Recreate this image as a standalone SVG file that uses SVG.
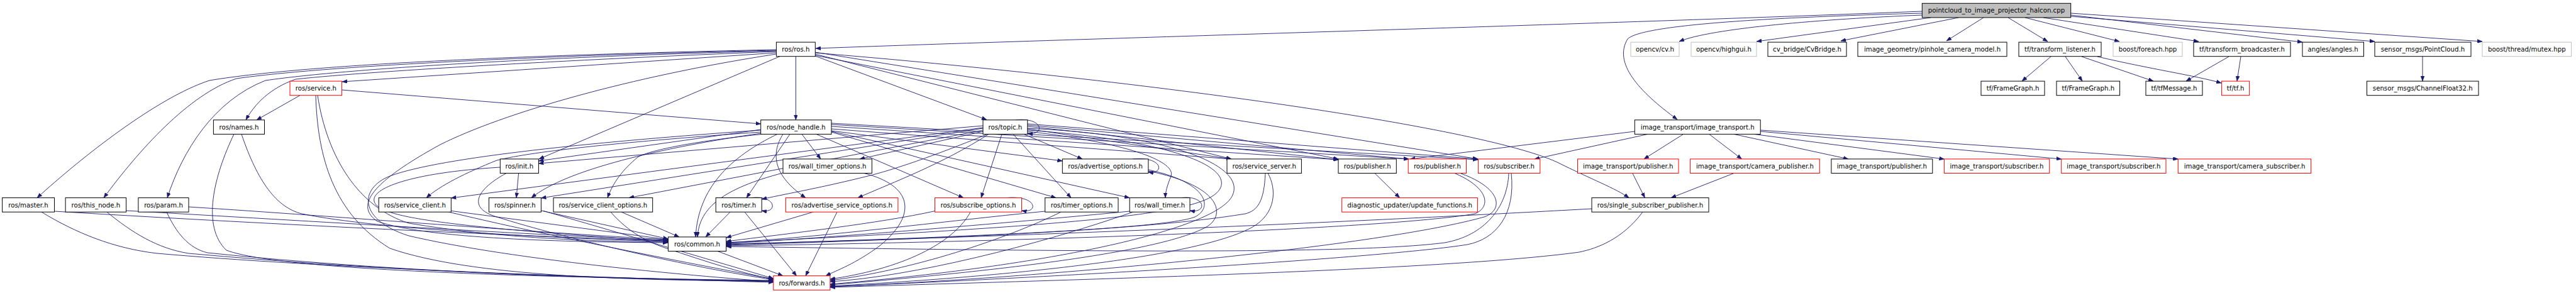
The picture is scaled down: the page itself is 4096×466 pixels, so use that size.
<svg xmlns="http://www.w3.org/2000/svg" width="4096" height="466" viewBox="0 0 4096 466">
<style>
.n rect{fill:#fff;stroke:#000;stroke-width:1}
.r rect{stroke:#ff0000}
.g rect{stroke:#bfbfbf}
.n text{font-family:"DejaVu Sans",sans-serif;font-size:10.2px;text-anchor:middle;fill:#000}
.e path{fill:none;stroke:#191970;stroke-width:0.9;marker-end:url(#a)}
</style>
<defs>
<marker id="a" markerWidth="8" markerHeight="6" refX="8" refY="3" orient="auto" markerUnits="userSpaceOnUse"><path d="M0,0 L8,3 L0,6 z" fill="#191970" stroke="#191970" stroke-width="0.5"/></marker>
</defs>
<rect width="4096" height="466" fill="#fff"/>
<g id="edges" class="e">
<path d="M3056,18 C2500,40 1700,62 1297,77"/>
<path d="M3056,21 C2800,28 2610,40 2588,62 C2565,100 2605,145 2667,190"/>
<path d="M3056,24 C2900,30 2720,45 2670,66"/>
<path d="M3070,28 L2793,66"/>
<path d="M3114,28 L2927,65"/>
<path d="M3154,28 L3095,65"/>
<path d="M3193,28 L3256,66"/>
<path d="M3220,28 L3370,66"/>
<path d="M3249,28 L3496,66"/>
<path d="M3293,24 L3661,67"/>
<path d="M3293,26 L3776,66"/>
<path d="M3293,21 L3947,66"/>
<path d="M3261,90 L3215,129"/>
<path d="M3284,90 L3311,129"/>
<path d="M3310,90 L3424,129"/>
<path d="M3335,90 C3420,110 3490,120 3532,132"/>
<path d="M3544,90 L3476,129"/>
<path d="M3563,90 L3557,129"/>
<path d="M3852,90 L3852,129"/>
<path d="M1265.4,89.7 L1265.4,190.8"/>
<path d="M1296,89 L1569,190.5"/>
<path d="M1296,84 C1800,125 2350,200 2476,258 C2530,285 2570,300 2590,314.6"/>
<path d="M1296,86 L1958,252.9"/>
<path d="M1296,83 L2350,252.9"/>
<path d="M1296,88 L2128,252.9"/>
<path d="M1234,79 C900,86 500,100 333,128 C250,155 130,250 59,314.6"/>
<path d="M1234,80 C900,87 520,104 376,125 C300,150 220,240 165,314.6"/>
<path d="M1234,81 C900,89 560,108 422,128 C340,160 290,240 266,314.6"/>
<path d="M1234,82 C950,93 600,112 470,126 C430,140 405,165 391,190.8"/>
<path d="M1234,84 L544,130"/>
<path d="M1240,89.7 L857,252.9"/>
<path d="M1234,86 C1000,122 800,180 700,230 C600,285 560,325 600,352 C680,380 900,385 1062,386"/>
<path d="M543.6,143 L1209.7,197"/>
<path d="M477,151.7 L408,190.8"/>
<path d="M502,151.7 C505,250 530,340 620,395 C750,440 1000,446 1229.8,447"/>
<path d="M505,151.7 C520,250 570,330 650,355 C800,380 950,384 1062.4,385"/>
<path d="M372,213.4 C340,280 320,360 360,398 C450,432 900,442 1229.8,446"/>
<path d="M384,213.4 C410,290 440,330 480,340 C600,365 900,380 1062.4,384"/>
<path d="M86.5,336 C400,355 800,375 1062.4,383"/>
<path d="M66,337.2 C120,370 180,395 250,403 C500,425 900,440 1229.8,449"/>
<path d="M200.6,335 C500,352 850,374 1062.4,382"/>
<path d="M170,337.2 C210,370 250,395 300,403 C600,430 900,442 1229.8,448"/>
<path d="M300,329 C550,345 850,370 1062.4,381"/>
<path d="M265,337.2 C280,370 300,395 330,402 C600,430 900,442 1229.8,447"/>
<path d="M824.6,275.5 L821,314.6"/>
<path d="M795.3,266 C650,275 590,300 595,320 C600,345 700,360 1062.4,384"/>
<path d="M805,275.5 C760,300 740,330 790,345 C900,380 1100,425 1229.8,445"/>
<path d="M1209.7,206 L856.4,256"/>
<path d="M1209.7,210 C1000,225 850,240 790,255 C740,275 700,295 678,314.6"/>
<path d="M1209.7,212 C1050,235 900,270 845,314.6"/>
<path d="M1212,213.4 C1100,225 1030,240 1014,250 C990,270 975,290 966,314.6"/>
<path d="M1275,213.4 L1305,252.9"/>
<path d="M1256,213.4 L1187,314.6"/>
<path d="M1245,213.4 C1225,245 1230,280 1281,314.6"/>
<path d="M1298,213.4 L1532,314.6"/>
<path d="M1322,208 L1689.3,256"/>
<path d="M1322,210 L1679,314.6"/>
<path d="M1322,209 L1796,314.6"/>
<path d="M1322,205 L1958,253"/>
<path d="M1322,201 L2128,254"/>
<path d="M1322,198 L2240,253"/>
<path d="M1322,196 L2350,254"/>
<path d="M1236,213.4 C1160,250 1110,300 1106,376.9"/>
<path d="M1209.7,207 C950,225 700,250 620,280 C570,300 570,350 650,375 C800,410 1050,435 1229.8,448"/>
<path d="M1615,190.8 C1660,186 1662,216 1634,212"/>
<path d="M1563,200 L856.4,260"/>
<path d="M1563,203 L717.3,315"/>
<path d="M1563,204 L860.4,315"/>
<path d="M1563,207 L1000,314.6"/>
<path d="M1563,209 L1367,252.9"/>
<path d="M1570,213.4 C1480,250 1420,270 1380,280 C1300,300 1240,310 1211.2,317"/>
<path d="M1572,213.4 C1500,260 1420,290 1364,314.6"/>
<path d="M1593,213.4 L1560,314.6"/>
<path d="M1628,213.4 L1721,252.9"/>
<path d="M1611,213.4 L1703,314.6"/>
<path d="M1633.8,209 C1800,228 1870,258 1862,280 C1856,295 1853,305 1853,314.6"/>
<path d="M1633.8,205 L1958,253"/>
<path d="M1633.8,201 L2128,254"/>
<path d="M1633.8,199 L2240,253"/>
<path d="M1633.8,197 L2350,253"/>
<path d="M1633.8,207 C1850,222 1960,262 1940,300 C1920,335 1800,355 1154.7,386"/>
<path d="M1633.8,204 C1870,215 1980,265 1960,310 C1940,360 1700,420 1319.9,452"/>
<path d="M1245,275 C1150,300 1112,330 1109,376.9"/>
<path d="M1374,275.5 C1450,295 1460,340 1400,390 C1360,420 1330,430 1313,438.7"/>
<path d="M1801,252.9 C1850,248 1852,278 1825.9,273.7"/>
<path d="M1825.9,270 C1920,290 1930,330 1900,345 C1850,365 1500,378 1154.7,389"/>
<path d="M1825.9,272 C1940,295 1950,340 1920,360 C1850,400 1600,430 1319.9,453"/>
<path d="M2012,275.5 C2010,320 2000,335 1980,340 C1800,370 1400,382 1154.7,390"/>
<path d="M2016,275.5 C2030,300 2030,340 1990,362 C1900,410 1600,440 1319.9,455"/>
<path d="M2186,275.5 L2225.6,314.6"/>
<path d="M2313,275.5 C2370,300 2370,330 2345,340 C2200,365 1600,385 1154.7,391"/>
<path d="M2322,275.5 C2390,300 2390,335 2360,345 C2200,390 1700,440 1319.9,456"/>
<path d="M2399,275.5 C2397,330 2360,375 2297,386 C2150,405 1700,400 1154.7,392"/>
<path d="M2403,275.5 C2410,340 2380,380 2333,389 C2200,410 1700,440 1319.9,456"/>
<path d="M2531,332 C2300,345 1700,375 1154.7,388"/>
<path d="M2612,337.2 C2580,380 2540,395 2511,401 C2300,430 1700,445 1319.9,457"/>
<path d="M2599.3,209 L2242,253"/>
<path d="M2620,213.4 L2440,253"/>
<path d="M2676.6,213.4 L2614,252.9"/>
<path d="M2717.7,213.4 L2769.5,252.9"/>
<path d="M2757,213.4 L2939,252.9"/>
<path d="M2789,213.4 L3091.4,253"/>
<path d="M2799.2,209 L3277.7,253"/>
<path d="M2799.2,207 L3463.3,253"/>
<path d="M2595.8,275.5 L2615.4,314.6"/>
<path d="M2757,275.5 L2657,314.6"/>
<path d="M988,337.2 L1080,376.9"/>
<path d="M971,337.2 C1000,370 1030,385 1060,395 C1120,415 1180,435 1229.8,444"/>
<path d="M860.4,335 L1062.4,380"/>
<path d="M864,335.4 C950,360 1050,390 1229.8,443"/>
<path d="M717.3,335.4 L1062.4,381"/>
<path d="M713.8,337.2 C850,370 1050,410 1229.8,444"/>
<path d="M1195,314.6 C1235,310 1237,340 1211.2,335"/>
<path d="M1161,337.2 L1122,376.9"/>
<path d="M1184,337.2 L1266.6,438.7"/>
<path d="M1293,337.2 L1154.7,378"/>
<path d="M1331,337.2 L1281,438.7"/>
<path d="M1600,314.6 C1650,310 1652,340 1624.5,335"/>
<path d="M1486.5,335.6 C1400,355 1250,372 1154.7,384"/>
<path d="M1543,337.2 C1520,380 1450,425 1319.9,444"/>
<path d="M1661.7,336 C1500,352 1300,378 1154.7,386"/>
<path d="M1687,337.2 C1600,380 1450,430 1319.9,446"/>
<path d="M1878,314.6 C1918,310 1920,340 1892,335"/>
<path d="M1796.2,336 C1600,355 1300,380 1154.7,387"/>
<path d="M1801.5,337.2 C1650,390 1450,440 1319.9,448"/>
<path d="M1141,399.5 L1245,438.7"/>
</g>
<g id="root" class="n"><rect x="3056.3" y="5.3" width="236.4" height="22.6" style="fill:#bfbfbf"/><text x="3174.5" y="20.3">pointcloud_to_image_projector_halcon.cpp</text></g>
<g id="ros_ros" class="n"><rect x="1234.4" y="67.1" width="61.9" height="22.6"/><text x="1265.4" y="82.1">ros/ros.h</text></g>
<g id="opencv_cv" class="n g"><rect x="2593" y="67.1" width="77" height="22.6"/><text x="2631.5" y="82.1">opencv/cv.h</text></g>
<g id="opencv_highgui" class="n g"><rect x="2689" y="67.1" width="104" height="22.6"/><text x="2741" y="82.1">opencv/highgui.h</text></g>
<g id="cv_bridge" class="n"><rect x="2811" y="67.1" width="125" height="22.6"/><text x="2873.5" y="82.1">cv_bridge/CvBridge.h</text></g>
<g id="pinhole" class="n"><rect x="2954" y="67.1" width="237" height="22.6"/><text x="3072.5" y="82.1">image_geometry/pinhole_camera_model.h</text></g>
<g id="tf_listener" class="n"><rect x="3210" y="67.1" width="131" height="22.6"/><text x="3275.5" y="82.1">tf/transform_listener.h</text></g>
<g id="boost_foreach" class="n g"><rect x="3360" y="67.1" width="110" height="22.6"/><text x="3415" y="82.1">boost/foreach.hpp</text></g>
<g id="tf_broadcaster" class="n"><rect x="3488" y="67.1" width="154" height="22.6"/><text x="3565" y="82.1">tf/transform_broadcaster.h</text></g>
<g id="angles" class="n"><rect x="3661" y="67.1" width="97.5" height="22.6"/><text x="3709.7" y="82.1">angles/angles.h</text></g>
<g id="pointcloud" class="n"><rect x="3776" y="67.1" width="153" height="22.6"/><text x="3852.5" y="82.1">sensor_msgs/PointCloud.h</text></g>
<g id="mutex" class="n g"><rect x="3947" y="67.1" width="141.6" height="22.6"/><text x="4017.8" y="82.1">boost/thread/mutex.hpp</text></g>
<g id="ros_service" class="n r"><rect x="461" y="129.1" width="82.6" height="22.6"/><text x="502.3" y="144.1">ros/service.h</text></g>
<g id="tf_framegraph1" class="n"><rect x="3150" y="129.1" width="101" height="22.6"/><text x="3200.5" y="144.1">tf/FrameGraph.h</text></g>
<g id="tf_framegraph2" class="n"><rect x="3270" y="129.1" width="100.6" height="22.6"/><text x="3320.3" y="144.1">tf/FrameGraph.h</text></g>
<g id="tf_tfmessage" class="n"><rect x="3412" y="129.1" width="90" height="22.6"/><text x="3457" y="144.1">tf/tfMessage.h</text></g>
<g id="tf_tf" class="n r"><rect x="3532.6" y="129.1" width="44" height="22.6"/><text x="3554.6" y="144.1">tf/tf.h</text></g>
<g id="channelfloat" class="n"><rect x="3763.5" y="129.1" width="177.5" height="22.6"/><text x="3852.3" y="144.1">sensor_msgs/ChannelFloat32.h</text></g>
<g id="ros_names" class="n"><rect x="339.4" y="190.8" width="81.1" height="22.6"/><text x="380" y="205.8">ros/names.h</text></g>
<g id="ros_node_handle" class="n"><rect x="1209.7" y="190.8" width="112.3" height="22.6"/><text x="1265.9" y="205.8">ros/node_handle.h</text></g>
<g id="ros_topic" class="n"><rect x="1563" y="190.8" width="70.8" height="22.6"/><text x="1598.4" y="205.8">ros/topic.h</text></g>
<g id="it_image_transport" class="n"><rect x="2599.3" y="190.8" width="199.9" height="22.6"/><text x="2699.3" y="205.8">image_transport/image_transport.h</text></g>
<g id="ros_init" class="n"><rect x="795.3" y="252.9" width="61.1" height="22.6"/><text x="825.9" y="267.9">ros/init.h</text></g>
<g id="ros_wall_timer_options" class="n"><rect x="1245" y="252.9" width="141.4" height="22.6"/><text x="1315.7" y="267.9">ros/wall_timer_options.h</text></g>
<g id="ros_advertise_options" class="n"><rect x="1689.3" y="252.9" width="136.6" height="22.6"/><text x="1757.6" y="267.9">ros/advertise_options.h</text></g>
<g id="ros_service_server" class="n"><rect x="1951" y="252.9" width="118.4" height="22.6"/><text x="2010.2" y="267.9">ros/service_server.h</text></g>
<g id="ros_publisher1" class="n"><rect x="2128" y="252.9" width="92.3" height="22.6"/><text x="2174.2" y="267.9">ros/publisher.h</text></g>
<g id="ros_publisher2" class="n r"><rect x="2239.2" y="252.9" width="92.3" height="22.6"/><text x="2285.4" y="267.9">ros/publisher.h</text></g>
<g id="ros_subscriber" class="n r"><rect x="2350.4" y="252.9" width="98.4" height="22.6"/><text x="2399.6" y="267.9">ros/subscriber.h</text></g>
<g id="it_publisher1" class="n r"><rect x="2508.5" y="252.9" width="160.5" height="22.6"/><text x="2588.8" y="267.9">image_transport/publisher.h</text></g>
<g id="it_camera_publisher" class="n r"><rect x="2687.6" y="252.9" width="205.7" height="22.6"/><text x="2790.5" y="267.9">image_transport/camera_publisher.h</text></g>
<g id="it_publisher2" class="n"><rect x="2911.9" y="252.9" width="160.9" height="22.6"/><text x="2992.4" y="267.9">image_transport/publisher.h</text></g>
<g id="it_subscriber1" class="n r"><rect x="3091.4" y="252.9" width="167.3" height="22.6"/><text x="3175" y="267.9">image_transport/subscriber.h</text></g>
<g id="it_subscriber2" class="n r"><rect x="3277.7" y="252.9" width="166.3" height="22.6"/><text x="3360.9" y="267.9">image_transport/subscriber.h</text></g>
<g id="it_camera_subscriber" class="n r"><rect x="3463.3" y="252.9" width="211.3" height="22.6"/><text x="3569" y="267.9">image_transport/camera_subscriber.h</text></g>
<g id="ros_master" class="n"><rect x="3.6" y="314.6" width="82.9" height="22.6"/><text x="45" y="329.6">ros/master.h</text></g>
<g id="ros_this_node" class="n"><rect x="104.1" y="314.6" width="96.5" height="22.6"/><text x="152.4" y="329.6">ros/this_node.h</text></g>
<g id="ros_param" class="n"><rect x="219.9" y="314.6" width="80.1" height="22.6"/><text x="260" y="329.6">ros/param.h</text></g>
<g id="ros_service_client" class="n"><rect x="602.2" y="314.6" width="115.1" height="22.6"/><text x="659.8" y="329.6">ros/service_client.h</text></g>
<g id="ros_spinner" class="n"><rect x="777.4" y="314.6" width="83" height="22.6"/><text x="818.9" y="329.6">ros/spinner.h</text></g>
<g id="ros_service_client_options" class="n"><rect x="880" y="314.6" width="157.7" height="22.6"/><text x="958.9" y="329.6">ros/service_client_options.h</text></g>
<g id="ros_timer" class="n"><rect x="1138.2" y="314.6" width="73" height="22.6"/><text x="1174.7" y="329.6">ros/timer.h</text></g>
<g id="ros_advertise_service_options" class="n r"><rect x="1249.4" y="314.6" width="178.5" height="22.6"/><text x="1338.7" y="329.6">ros/advertise_service_options.h</text></g>
<g id="ros_subscribe_options" class="n r"><rect x="1486.5" y="314.6" width="138" height="22.6"/><text x="1555.5" y="329.6">ros/subscribe_options.h</text></g>
<g id="ros_timer_options" class="n"><rect x="1661.7" y="314.6" width="116.3" height="22.6"/><text x="1719.9" y="329.6">ros/timer_options.h</text></g>
<g id="ros_wall_timer" class="n"><rect x="1796.2" y="314.6" width="95.8" height="22.6"/><text x="1844.1" y="329.6">ros/wall_timer.h</text></g>
<g id="diag_update_functions" class="n r"><rect x="2133.7" y="314.6" width="215.7" height="22.6"/><text x="2241.6" y="329.6">diagnostic_updater/update_functions.h</text></g>
<g id="ros_single_subscriber_publisher" class="n"><rect x="2531" y="314.6" width="186" height="22.6"/><text x="2624" y="329.6">ros/single_subscriber_publisher.h</text></g>
<g id="ros_common" class="n"><rect x="1062.4" y="376.9" width="92.3" height="22.6"/><text x="1108.6" y="391.9">ros/common.h</text></g>
<g id="ros_forwards" class="n r"><rect x="1229.8" y="438.7" width="90.1" height="22.6"/><text x="1274.9" y="453.7">ros/forwards.h</text></g>
</svg>
